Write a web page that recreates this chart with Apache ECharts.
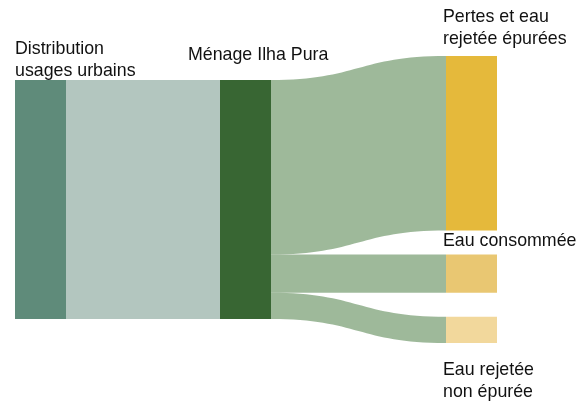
<!DOCTYPE html>
<html>
<head>
<meta charset="utf-8">
<script src="https://cdn.jsdelivr.net/npm/echarts@6/dist/echarts.min.js"></script>
<style>
  html, body { margin: 0; padding: 0; background: #fff; }
  #chart { width: 587px; height: 401px; }
</style>
</head>
<body>
<div id="chart"></div>
<script>
// Flow of urban water use (share of total, %)
const nodeNames = [
  'Distribution usages urbains',
  'Ménage Ilha Pura',
  'Pertes et eau rejetée épurées',
  'Eau consommée',
  'Eau rejetée non épurée'
];
const nodeLabels = [
  'Distribution\nusages urbains',
  'Ménage Ilha Pura',
  'Pertes et eau\nrejetée épurées',
  'Eau consommée',
  'Eau rejetée\nnon épurée'
];
const linkSources = ['Distribution usages urbains', 'Ménage Ilha Pura', 'Ménage Ilha Pura', 'Ménage Ilha Pura'];
const linkTargets = ['Ménage Ilha Pura', 'Pertes et eau rejetée épurées', 'Eau consommée', 'Eau rejetée non épurée'];
const linkValues = [100, 73, 16, 11];

// Presentation of each node
const nodeColors = ['#5f8b7a', '#386633', '#e5b93b', '#e9c772', '#f2d89c'];
const labelPlacement = [
  { position: [0, 2], verticalAlign: 'bottom' },
  { position: [-32, -14], verticalAlign: 'bottom' },
  { position: [-3, -6], verticalAlign: 'bottom' },
  { position: [-3, -2], verticalAlign: 'bottom' },
  { position: ['0%', '100%'], offset: [-3, 16], verticalAlign: 'top' }
];
// Fixed placement of the first two columns within the series box (fractions)
const SERIES_W = 482, SERIES_H = 287;
const fixedPlacement = {
  0: { localY: 24 / SERIES_H },
  1: { localX: 205 / SERIES_W, localY: 24 / SERIES_H }
};

const chart = echarts.init(document.getElementById('chart'), null, { renderer: 'canvas' });

const nodes = nodeNames.map((name, i) => Object.assign({
  name: name,
  itemStyle: { color: nodeColors[i], opacity: 1 },
  label: Object.assign({
    show: true,
    formatter: nodeLabels[i],
    align: 'left',
    color: '#111',
    fontSize: 17.8,
    lineHeight: 22,
    fontFamily: 'Liberation Sans, Arial, sans-serif'
  }, labelPlacement[i])
}, fixedPlacement[i] || {}));

const links = linkValues.map((v, i) => ({
  source: linkSources[i],
  target: linkTargets[i],
  value: v,
  lineStyle: i === 0
    ? { color: '#b3c6bf', opacity: 1 }
    : { color: '#5e8a56', opacity: 0.6 }
}));

chart.setOption({
  animation: false,
  backgroundColor: '#fff',
  series: [{
    type: 'sankey',
    left: 15,
    right: 90,
    top: 56,
    bottom: 58,
    nodeWidth: 51,
    nodeGap: 24,
    draggable: false,
    layoutIterations: 32,
    emphasis: { disabled: true },
    itemStyle: { borderWidth: 0 },
    lineStyle: { curveness: 0.5 },
    data: nodes,
    links: links
  }]
});
</script>
</body>
</html>
